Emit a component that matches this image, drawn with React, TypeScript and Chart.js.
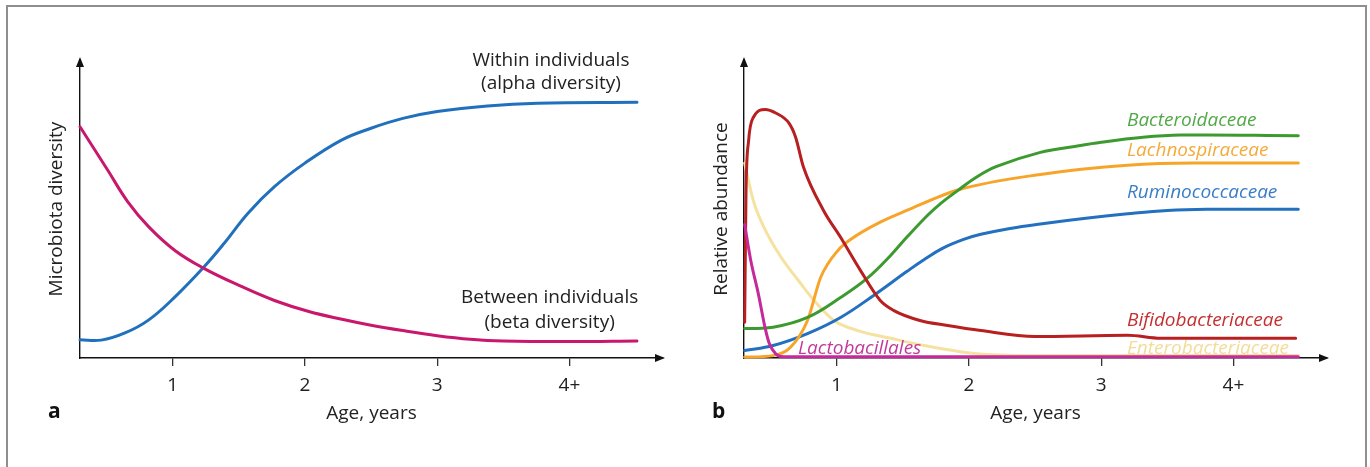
import React, { useEffect, useRef } from "react";
import { Chart, registerables } from "chart.js";

Chart.register(...registerables);

// ---------- shared axis ----------
const AGE_TICKS = [1, 2, 3, 4];
const AGE_TICK_LABELS = ["1", "2", "3", "4+"];

// ---------- panel a: microbiota diversity ----------
const alphaAge = [0.3, 0.46, 0.64, 0.82, 1.02, 1.24, 1.39, 1.57, 1.77, 2.0, 2.28, 2.5, 2.74, 3.0, 3.38, 3.76, 4.51];
const alphaDiversity = [6.1, 6.0, 8.4, 12.8, 20.6, 30.7, 38.5, 48.6, 57.5, 65.4, 73.2, 77.1, 80.4, 82.7, 84.6, 85.5, 85.8];

const betaAge = [0.3, 0.51, 0.66, 0.82, 1.02, 1.24, 1.52, 1.77, 2.03, 2.28, 2.5, 2.74, 3.0, 3.25, 3.5, 4.0, 4.51];
const betaDiversity = [77.6, 63.0, 52.5, 44.0, 36.0, 30.0, 24.0, 19.3, 15.6, 13.0, 11.0, 9.2, 7.5, 6.3, 5.7, 5.5, 5.7];

// ---------- panel b: relative abundance ----------
const bifidoAge = [0.305, 0.315, 0.335, 0.37, 0.46, 0.54, 0.64, 0.69, 0.75, 0.9, 1.03, 1.18, 1.33, 1.43, 1.63, 1.84, 2.09, 2.5, 3.2, 3.45, 4.47];
const bifidoAbundance = [12, 55, 73, 80.7, 83.4, 82.2, 78.8, 74.1, 64.0, 49.6, 40.5, 29.4, 19.3, 16.0, 12.6, 10.9, 9.2, 7.2, 7.6, 6.6, 6.6];

const bacteroAge = [0.305, 0.52, 0.78, 1.03, 1.23, 1.41, 1.53, 1.69, 1.79, 1.91, 2.05, 2.21, 2.54, 2.8, 3.0, 3.3, 3.6, 4.49];
const bacteroAbundance = [9.9, 10.3, 13.6, 20.3, 26.7, 34.5, 40.5, 48.0, 52.0, 56.0, 60.5, 64.3, 69.0, 71.0, 72.4, 74.0, 74.8, 74.6];

const lachnoAge = [0.305, 0.52, 0.65, 0.78, 0.88, 1.01, 1.13, 1.33, 1.53, 1.91, 2.54, 3.2, 3.7, 4.49];
const lachnoAbundance = [0.3, 0.8, 3.5, 12.6, 27.1, 36.1, 40.5, 45.6, 49.5, 56.3, 61.6, 64.7, 65.4, 65.4];

const ruminoAge = [0.305, 0.52, 0.78, 1.03, 1.28, 1.53, 1.66, 1.8, 1.96, 2.09, 2.3, 2.54, 2.9, 3.2, 3.5, 3.8, 4.49];
const ruminoAbundance = [2.5, 4.2, 8.2, 13.6, 21.0, 29.0, 33.0, 36.8, 39.8, 41.5, 43.4, 45.0, 47.0, 48.4, 49.5, 49.9, 49.9];

const enteroAge = [0.305, 0.37, 0.45, 0.58, 0.71, 0.83, 0.98, 1.16, 1.41, 1.66, 2.04, 2.5, 4.49];
const enteroAbundance = [65.4, 52.9, 43.9, 33.8, 26.1, 19.3, 12.6, 9.2, 6.6, 4.2, 1.5, 0.8, 0.8];

const lactoAge = [0.305, 0.35, 0.41, 0.46, 0.49, 0.54, 0.6, 4.49];
const lactoAbundance = [44.8, 33, 21.2, 10, 5.0, 1.4, 0.4, 0.4];

// ---------- styling ----------
const FONT = "'Open Sans', 'Noto Sans', sans-serif";
const TEXT = "#222222";
const FS = 19;

const zip = (xs: number[], ys: number[]) => xs.map((x, i) => ({ x, y: ys[i] }));

type Label = { text: string; x: number; y: number; color: string; align: CanvasTextAlign; italic?: boolean };

const panelALabels: Label[] = [
  { text: "Within individuals", x: 3.86, y: 98.0, color: TEXT, align: "center" },
  { text: "(alpha diversity)", x: 3.86, y: 90.3, color: TEXT, align: "center" },
  { text: "Between individuals", x: 3.85, y: 18.3, color: TEXT, align: "center" },
  { text: "(beta diversity)", x: 3.85, y: 10.2, color: TEXT, align: "center" },
];

const panelBLabels: Label[] = [
  { text: "Bacteroidaceae", x: 3.195, y: 78.0, color: "#52a847", align: "left", italic: true },
  { text: "Lachnospiraceae", x: 3.195, y: 67.8, color: "#f4ab3c", align: "left", italic: true },
  { text: "Ruminococcaceae", x: 3.195, y: 53.7, color: "#3a7ec6", align: "left", italic: true },
  { text: "Bifidobacteriaceae", x: 3.195, y: 10.9, color: "#c4302f", align: "left", italic: true },
  { text: "Enterobacteriaceae", x: 3.195, y: 1.5, color: "#f2dc98", align: "left", italic: true },
  { text: "Lactobacillales", x: 0.708, y: 1.5, color: "#c03a9a", align: "left", italic: true },
];

const decorPlugin = {
  id: "decor",
  afterDraw(chart: any, _args: any, opts: any) {
    const { ctx, chartArea: a, scales } = chart;
    ctx.save();
    ctx.fillStyle = "#111";
    // x arrow head
    ctx.beginPath();
    ctx.moveTo(a.right + 2, a.bottom);
    ctx.lineTo(a.right - 8, a.bottom - 4);
    ctx.lineTo(a.right - 8, a.bottom + 4);
    ctx.closePath();
    ctx.fill();
    // y arrow head
    ctx.beginPath();
    ctx.moveTo(a.left, a.top - 3);
    ctx.lineTo(a.left - 4, a.top + 7);
    ctx.lineTo(a.left + 4, a.top + 7);
    ctx.closePath();
    ctx.fill();

    for (const l of opts.labels as Label[]) {
      ctx.font = `${l.italic ? "italic " : ""}${FS}px ${FONT}`;
      ctx.fillStyle = l.color;
      ctx.textAlign = l.align;
      ctx.textBaseline = "alphabetic";
      ctx.fillText(l.text, scales.x.getPixelForValue(l.x), scales.y.getPixelForValue(l.y));
    }
    // panel letter
    ctx.font = `bold 21px ${FONT}`;
    ctx.fillStyle = "#111";
    ctx.textAlign = "left";
    ctx.fillText(opts.letter, a.left - 32, 418);
    ctx.restore();
  },
};

function buildOptions(p: { yTitle: string; padLeft: number; yWidth: number; padRight: number; labels: Label[]; letter: string }) {
  return {
    responsive: false,
    maintainAspectRatio: false,
    animation: false,
    layout: { padding: { top: 60, left: p.padLeft, right: p.padRight, bottom: 41.6 } },
    plugins: {
      legend: { display: false },
      tooltip: { enabled: false },
      decor: { labels: p.labels, letter: p.letter },
    },
    elements: {
      point: { radius: 0 },
      line: { borderWidth: 3, tension: 0.4, borderCapStyle: "round", borderJoinStyle: "round" },
    },
    scales: {
      x: {
        type: "linear",
        min: 0.3,
        max: 4.707,
        border: { display: true, color: "#111", width: 1.4 },
        grid: { display: true, drawOnChartArea: false, drawTicks: true, tickLength: 8, color: "#333", lineWidth: 1.3 },
        afterBuildTicks: (s: any) => {
          s.ticks = AGE_TICKS.map((v) => ({ value: v }));
        },
        ticks: {
          autoSkip: false,
          maxRotation: 0,
          padding: 8,
          color: TEXT,
          font: { family: FONT, size: FS },
          callback: (v: any) => {
            const i = AGE_TICKS.indexOf(Number(v));
            return i >= 0 ? AGE_TICK_LABELS[i] : "";
          },
        },
        title: { display: true, text: "Age, years", color: TEXT, font: { family: FONT, size: FS }, padding: 0 },
        afterFit: (s: any) => {
          s.height = 67.4;
        },
      },
      y: {
        type: "linear",
        min: 0,
        max: 100,
        border: { display: true, color: "#111", width: 1.4 },
        grid: { display: false },
        ticks: { display: false },
        title: { display: true, text: p.yTitle, color: TEXT, font: { family: FONT, size: FS }, padding: 0 },
        afterFit: (s: any) => {
          s.width = p.yWidth;
        },
      },
    },
  };
}

export default function App() {
  const refA = useRef<HTMLCanvasElement>(null);
  const refB = useRef<HTMLCanvasElement>(null);

  useEffect(() => {
    const mono = { cubicInterpolationMode: "monotone" as const };
    const chartA = new Chart(refA.current!, {
      type: "line",
      data: {
        datasets: [
          { label: "Between individuals", data: zip(betaAge, betaDiversity), borderColor: "#c9176d", clip: false },
          { label: "Within individuals", data: zip(alphaAge, alphaDiversity), borderColor: "#2070bd", clip: false },
        ],
      },
      options: buildOptions({ yTitle: "Microbiota diversity", padLeft: 45.6, yWidth: 34.4, padRight: 22, labels: panelALabels, letter: "a" }) as any,
      plugins: [decorPlugin],
    });
    const chartB = new Chart(refB.current!, {
      type: "line",
      data: {
        datasets: [
          { label: "Lactobacillales", data: zip(lactoAge, lactoAbundance), borderColor: "#c42a9a", clip: false, ...mono },
          { label: "Bifidobacteriaceae", data: zip(bifidoAge, bifidoAbundance), borderColor: "#b71f21", clip: false, ...mono },
          { label: "Bacteroidaceae", data: zip(bacteroAge, bacteroAbundance), borderColor: "#3d9a2f", clip: false },
          { label: "Lachnospiraceae", data: zip(lachnoAge, lachnoAbundance), borderColor: "#f7a52a", clip: false, ...mono },
          { label: "Ruminococcaceae", data: zip(ruminoAge, ruminoAbundance), borderColor: "#2270bf", clip: false },
          { label: "Enterobacteriaceae", data: zip(enteroAge, enteroAbundance), borderColor: "#f5e2a0", clip: false, ...mono },
        ],
      },
      options: buildOptions({ yTitle: "Relative abundance", padLeft: 25.6, yWidth: 33.4, padRight: 43, labels: panelBLabels, letter: "b" }) as any,
      plugins: [decorPlugin],
    });
    return () => {
      chartA.destroy();
      chartB.destroy();
    };
  }, []);

  return (
    <div style={{ position: "fixed", left: 0, top: 0, width: 1370, height: 467, overflow: "hidden", background: "#fff" }}>
      <div
        style={{
          position: "absolute",
          left: 6,
          top: 5,
          width: 1357,
          height: 540,
          border: "2px solid #8f8f8f",
          background: "#fff",
        }}
      />
      <canvas ref={refA} width={685} height={467} style={{ position: "absolute", left: 0, top: 0, display: "block" }} />
      <canvas ref={refB} width={685} height={467} style={{ position: "absolute", left: 685, top: 0, display: "block" }} />
    </div>
  );
}
